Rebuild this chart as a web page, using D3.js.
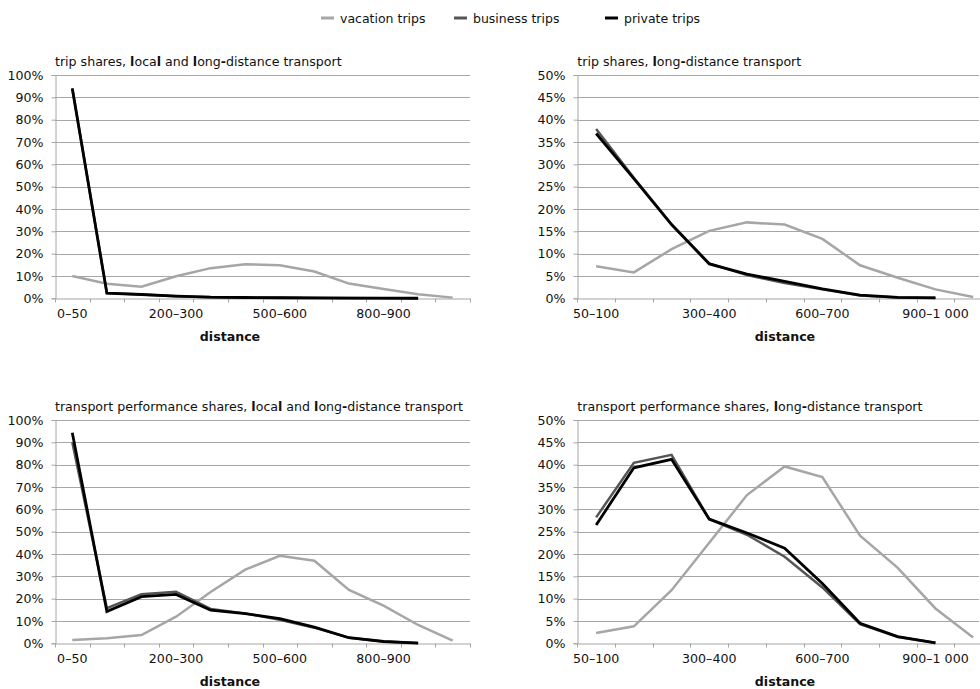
<!DOCTYPE html>
<html>
<head>
<meta charset="utf-8">
<script src="https://cdn.jsdelivr.net/npm/d3@7"></script>
<style>
  html, body { margin: 0; padding: 0; background: #fff; }
  svg { display: block; font-family: "DejaVu Sans", Verdana, sans-serif; }
</style>
</head>
<body>
<svg id="chart" width="980" height="689"></svg>
<script>
// distance classes (km)
const catsAll = ["0–50", "50–100", "100–200", "200–300", "300–400", "400–500", "500–600",
                 "600–700", "700–800", "800–900", "900–1 000", ">1 000"];
const catsLong = catsAll.slice(1);

const seriesNames = ["vacation trips", "business trips", "private trips"];
const seriesColors = ["#a6a6a6", "#555555", "#000000"];

// trip shares, local and long-distance transport (%)
const tripAllVacation = [10, 6.5, 5.2, 9.9, 13.5, 15.3, 14.8, 12, 6.6, 4.2, 1.8, 0.3];
const tripAllBusiness = [94, 2.3, 1.7, 0.9, 0.45, 0.35, 0.25, 0.15, 0.08, 0.05, 0.03];
const tripAllPrivate  = [94, 2.3, 1.7, 1.0, 0.5, 0.35, 0.25, 0.15, 0.08, 0.05, 0.03];

// trip shares, long-distance transport (%)
const tripLongVacation = [7.2, 5.8, 11, 15.1, 17, 16.5, 13.3, 7.4, 4.6, 2.0, 0.3];
const tripLongBusiness = [37.9, 27, 16.6, 7.8, 5.2, 3.4, 2.0, 0.6, 0.2, 0.1];
const tripLongPrivate  = [36.9, 26.8, 16.5, 7.7, 5.4, 3.8, 2.1, 0.7, 0.2, 0.1];

// transport performance shares, local and long-distance transport (%)
const perfAllVacation = [1.5, 2.3, 3.7, 11.9, 23, 33, 39.2, 37, 23.9, 16.9, 8.2, 1.2];
const perfAllBusiness = [90, 15.7, 22, 23.1, 15.4, 13.4, 10.5, 7.0, 2.5, 0.8, 0.1];
const perfAllPrivate  = [94.3, 14.2, 20.9, 21.9, 14.8, 13.3, 11, 7.2, 2.5, 0.8, 0.1];

// transport performance shares, long-distance transport (%)
const perfLongVacation = [2.3, 3.8, 11.9, 22.5, 33.2, 39.6, 37.2, 24.1, 16.9, 7.8, 1.3];
const perfLongBusiness = [28.2, 40.4, 42.2, 27.8, 24.3, 19.4, 12.5, 4.3, 1.4, 0.1];
const perfLongPrivate  = [26.5, 39.3, 41.2, 27.8, 24.7, 21.3, 13.4, 4.5, 1.5, 0.1];

const ticks100 = [0, 10, 20, 30, 40, 50, 60, 70, 80, 90, 100];
const ticks50  = [0, 5, 10, 15, 20, 25, 30, 35, 40, 45, 50];

const panels = [
  { title: "trip shares, local and long-distance transport", cats: catsAll, ticks: ticks100,
    data: [tripAllVacation, tripAllBusiness, tripAllPrivate],
    x: [55, 470], y: [298.3, 75], axisTitleX: 230 },
  { title: "trip shares, long-distance transport", cats: catsLong, ticks: ticks50,
    data: [tripLongVacation, tripLongBusiness, tripLongPrivate],
    x: [577.3, 992], y: [298.3, 75], axisTitleX: 785 },
  { title: "transport performance shares, local and long-distance transport", cats: catsAll, ticks: ticks100,
    data: [perfAllVacation, perfAllBusiness, perfAllPrivate],
    x: [55, 470], y: [643.3, 420], axisTitleX: 230 },
  { title: "transport performance shares, long-distance transport", cats: catsLong, ticks: ticks50,
    data: [perfLongVacation, perfLongBusiness, perfLongPrivate],
    x: [577.3, 992], y: [643.3, 420], axisTitleX: 785 }
];

const svg = d3.select("#chart");
const gridColor = "#a6a6a6";

// title text where every "l" and "-" is set in bold
function richTitle(sel, text) {
  const runs = [];
  for (const ch of text) {
    const bold = ch === "l" || ch === "-";
    if (runs.length && runs[runs.length - 1].bold === bold) runs[runs.length - 1].t += ch;
    else runs.push({ t: ch, bold });
  }
  sel.selectAll("tspan").data(runs).join("tspan")
    .attr("font-weight", d => d.bold ? "bold" : null)
    .text(d => d.t);
}

panels.forEach(p => {
  const g = svg.append("g");
  const x = d3.scaleBand().domain(p.cats).range(p.x).padding(0);
  const yMax = p.ticks[p.ticks.length - 1];
  const y = d3.scaleLinear().domain([0, yMax]).range(p.y);

  // horizontal gridlines
  g.append("g").selectAll("line").data(p.ticks.slice(1)).join("line")
    .attr("x1", p.x[0]).attr("x2", Math.min(p.x[1], 979))
    .attr("y1", d => Math.round(y(d)) + 0.5).attr("y2", d => Math.round(y(d)) + 0.5)
    .attr("stroke", gridColor).attr("stroke-width", 1);

  // y axis
  const yAxis = g.append("g").attr("transform", `translate(${Math.round(p.x[0]) + 0.5},0)`)
    .call(d3.axisLeft(y).tickValues(p.ticks).tickFormat(d => d + "%").tickSize(4).tickPadding(8));
  yAxis.select(".domain").attr("stroke", gridColor);
  yAxis.selectAll(".tick line").attr("stroke", gridColor);
  yAxis.selectAll(".tick text").attr("font-size", 12.6).attr("fill", "#111")
    .attr("font-family", "DejaVu Sans, sans-serif");

  // x axis with tick marks on category boundaries
  const y0 = Math.round(y(0)) + 0.5;
  const xAxis = g.append("g").attr("transform", `translate(0,${y0})`)
    .call(d3.axisBottom(x).tickValues(p.cats.filter((d, i) => i % 3 === 0)).tickSize(0).tickPadding(11));
  xAxis.select(".domain").attr("stroke", gridColor);
  xAxis.selectAll(".tick text").attr("font-size", 12.6).attr("fill", "#111")
    .attr("font-family", "DejaVu Sans, sans-serif");
  const bounds = p.cats.map(c => x(c)).concat([x.range()[1]]);
  g.append("g").selectAll("line").data(bounds).join("line")
    .attr("x1", d => Math.round(d) + 0.5).attr("x2", d => Math.round(d) + 0.5)
    .attr("y1", y0).attr("y2", y0 + 4)
    .attr("stroke", gridColor);

  // axis title
  g.append("text")
    .attr("x", p.axisTitleX)
    .attr("y", p.y[0] + 43)
    .attr("text-anchor", "middle").attr("font-weight", "bold").attr("font-size", 12.6)
    .attr("fill", "#111")
    .text("distance");

  // panel title
  g.append("text").attr("x", p.x[0]).attr("y", p.y[1] - 9)
    .attr("font-size", 12.6).attr("fill", "#111")
    .call(richTitle, p.title);

  // series lines: vacation first, then business, private on top
  const line = d3.line()
    .x((d, i) => x(p.cats[i]) + x.bandwidth() / 2)
    .y(d => y(d));
  p.data.forEach((vals, si) => {
    g.append("path").datum(vals)
      .attr("fill", "none")
      .attr("stroke", seriesColors[si])
      .attr("stroke-width", si === 2 ? 2.8 : 2.5)
      .attr("stroke-linejoin", "miter")
      .attr("d", line);
  });
});

// legend
const legendX = [321, 454, 605];
const legend = svg.append("g");
seriesNames.forEach((name, i) => {
  legend.append("line")
    .attr("x1", legendX[i]).attr("x2", legendX[i] + 13)
    .attr("y1", 18).attr("y2", 18)
    .attr("stroke", seriesColors[i]).attr("stroke-width", 3);
  legend.append("text")
    .attr("x", legendX[i] + 19).attr("y", 22.5)
    .attr("font-size", 12.5).attr("fill", "#111")
    .text(name);
});
</script>
</body>
</html>
